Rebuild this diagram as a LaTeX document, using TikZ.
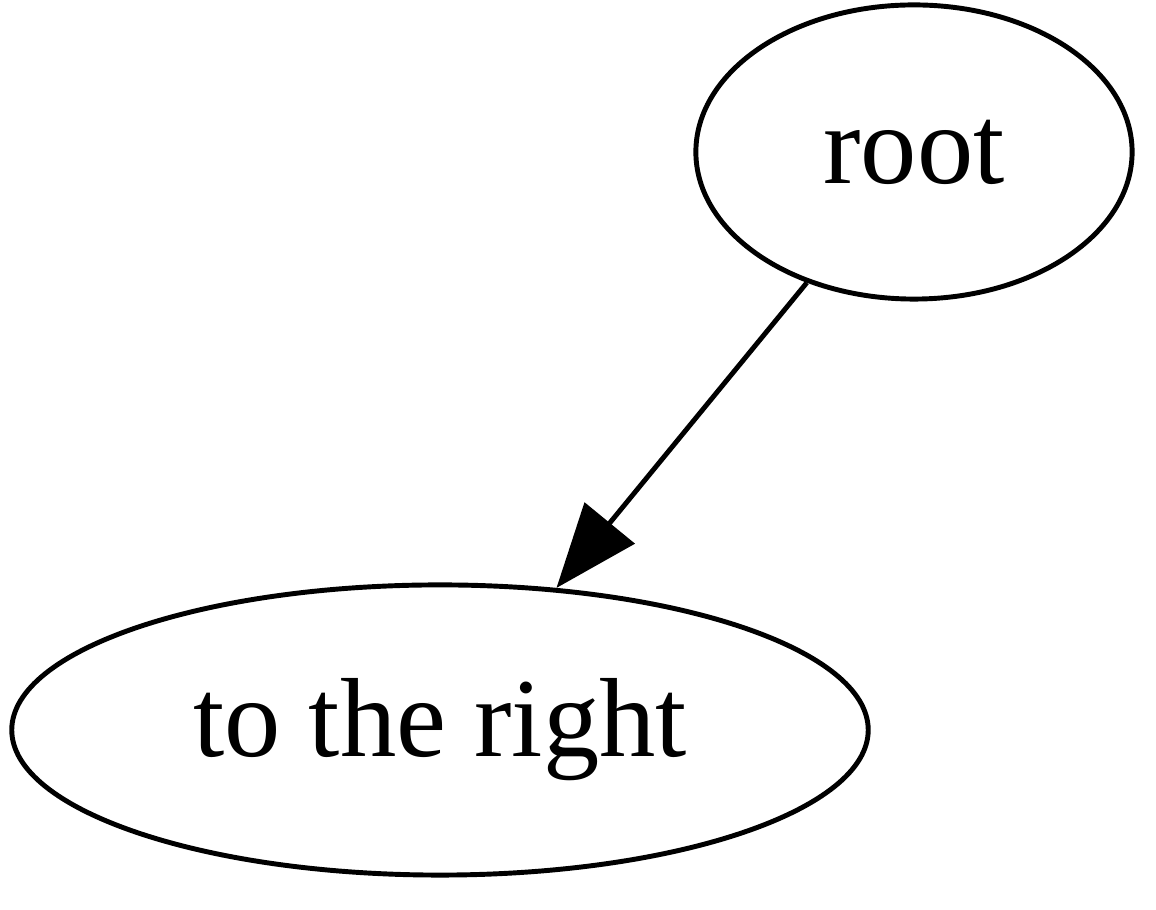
\documentclass[tikz,border=0pt]{standalone}
\usepackage{fontspec}
\setmainfont{Liberation Serif}
\usetikzlibrary{shapes.geometric,arrows.meta}

\begin{document}
\begin{tikzpicture}[x=0.01cm, y=-0.01cm,
    vertex/.style={draw, ellipse, line width=1.4pt, inner sep=0pt, font=\fontsize{32}{38}\selectfont},
    link/.style={line width=1.4pt, -{Triangle[length=0.84cm, width=0.64cm]}}]
    % Fix the frame
    \useasboundingbox (0,0) rectangle (1156,910);

    % Draw the nodes
    \node[vertex, minimum width=4.36cm, minimum height=2.94cm] (root) at (914,152) {root};
    \node[vertex, minimum width=8.56cm, minimum height=2.90cm] (right) at (440,730) {to the right};

    % Draw the edge
    \draw[link] (root) -- (right);
\end{tikzpicture}
\end{document}
